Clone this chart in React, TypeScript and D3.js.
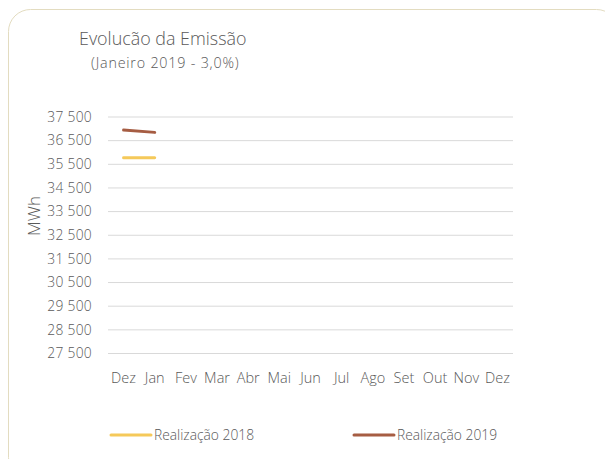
import React from "react";
import * as d3 from "d3";

const months = ["Dez", "Jan", "Fev", "Mar", "Abr", "Mai", "Jun", "Jul", "Ago", "Set", "Out", "Nov", "Dez"];
const yTicks = [27500, 28500, 29500, 30500, 31500, 32500, 33500, 34500, 35500, 36500, 37500];
const real2018: (number | null)[] = [35780, 35775, null, null, null, null, null, null, null, null, null, null, null];
const real2019: (number | null)[] = [36950, 36850, null, null, null, null, null, null, null, null, null, null, null];
const seriesNames = ["Realização 2018", "Realização 2019"];
const seriesColors = ["#f5c95a", "#a65d43"];

const W = 605, H = 459;
const FONT = "'Open Sans', 'Noto Sans', sans-serif";
const TXT = "#595959";

export default function App() {
  const x = d3.scaleBand<number>().domain(months.map((_, i) => i)).range([108, 513]);
  const y = d3.scaleLinear().domain([27500, 37500]).range([353.5, 117]);
  const fmt = (v: number) => d3.format(",")(v).replace(/,/g, " ");
  const line = d3
    .line<number | null>()
    .defined((d) => d !== null)
    .x((_, i) => (x(i) as number) + x.bandwidth() / 2)
    .y((d) => y(d as number));
  const series = [real2018, real2019];

  return (
    <svg width={W} height={H} style={{ position: "absolute", left: 0, top: 0, display: "block" }}>
      <rect x={8.5} y={9.5} width={610} height={470} rx={22} fill="#fff" stroke="#e3dcc0" strokeWidth={1} />
      <text x={79} y={45} fontFamily={FONT} fontWeight={300} fontSize={17.9} fill={TXT}>Evolucão da Emissão</text>
      <text x={91} y={68} fontFamily={FONT} fontWeight={300} fontSize={14.3} letterSpacing={0.8} fill={TXT}>(Janeiro 2019 - 3,0%)</text>
      {yTicks.map((t) => (
        <g key={t}>
          <line x1={108} x2={513} y1={y(t)} y2={y(t)} stroke="#d9d9d9" strokeWidth={1} />
          <text x={92} y={y(t)} dy="0.35em" textAnchor="end" fontFamily={FONT} fontWeight={300} fontSize={13.8} letterSpacing={0.3} fill={TXT}>
            {fmt(t)}
          </text>
        </g>
      ))}
      <text
        transform={`translate(40,216) rotate(-90)`}
        textAnchor="middle"
        fontFamily={FONT}
        fontWeight={300}
        fontSize={17}
        fill={TXT}
      >
        MWh
      </text>
      {months.map((m, i) => (
        <text
          key={i}
          x={(x(i) as number) + x.bandwidth() / 2}
          y={383}
          textAnchor="middle"
          fontFamily={FONT}
          fontWeight={300}
          fontSize={14.5}
          fill={TXT}
        >
          {m}
        </text>
      ))}
      {series.map((s, k) => (
        <path key={k} d={line(s) || ""} fill="none" stroke={seriesColors[k]} strokeWidth={3} strokeLinecap="round" />
      ))}
      {seriesNames.map((n, k) => {
        const lx = k === 0 ? 111 : 354;
        return (
          <g key={n}>
            <line x1={lx} x2={lx + 40} y1={435} y2={435} stroke={seriesColors[k]} strokeWidth={3} strokeLinecap="round" />
            <text x={lx + 43} y={435} dy="0.35em" fontFamily={FONT} fontWeight={300} fontSize={13.8} fill={TXT}>{n}</text>
          </g>
        );
      })}
    </svg>
  );
}
